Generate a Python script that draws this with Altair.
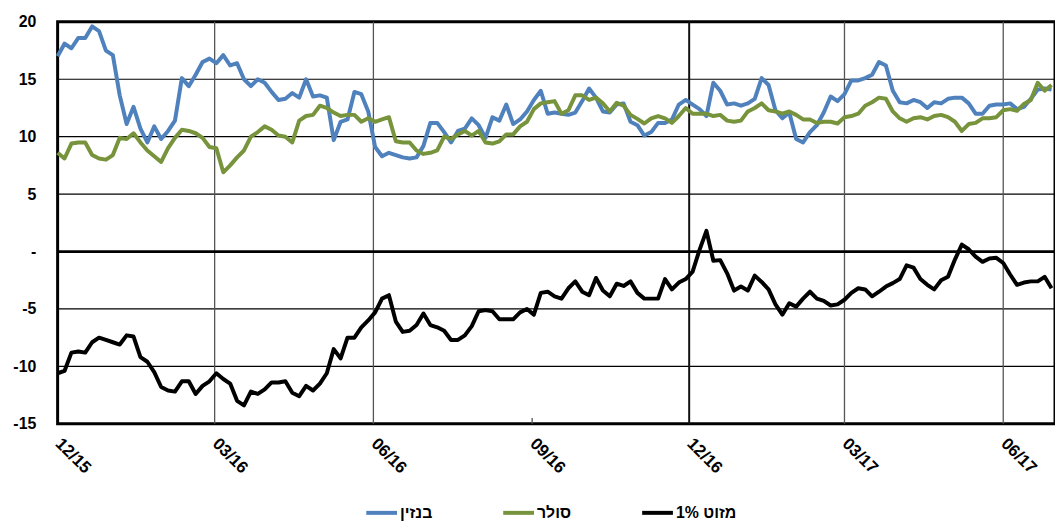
import altair as alt
import pandas as pd

# ---- data (one sample every 4 days from 2015-12-01) ----
dates = pd.date_range("2015-12-01", periods=145, freq="4D").strftime("%Y-%m-%d").tolist()

benzin = [
    17.0, 18.1, 17.7, 18.6, 18.6, 19.6, 19.2, 17.5, 17.1, 13.6,
    11.1, 12.6, 10.7, 9.5, 10.9, 9.8, 10.5, 11.4, 15.1, 14.4,
    15.4, 16.5, 16.8, 16.4, 17.1, 16.2, 16.4, 15.0, 14.4, 15.0,
    14.7, 13.9, 13.2, 13.3, 13.8, 13.4, 15.0, 13.5, 13.6, 13.4,
    9.7, 11.3, 11.5, 13.9, 13.7, 12.2, 9.1, 8.3, 8.6, 8.4,
    8.2, 8.1, 8.2, 9.2, 11.2, 11.2, 10.4, 9.5, 10.5, 10.7,
    11.6, 11.0, 9.9, 11.7, 11.4, 12.8, 11.1, 11.5, 12.2, 13.2,
    14.0, 12.0, 12.1,
    12.0, 11.9, 12.1, 13.1, 14.2, 13.4, 12.2, 12.1, 12.8, 12.9,
    11.3, 11.0, 10.1, 10.4, 11.2, 11.2, 11.5, 12.8, 13.2, 12.8,
    12.4, 11.8, 14.7, 14.0, 12.8, 12.9, 12.7, 12.9, 13.3, 15.1,
    14.5, 12.3, 11.6, 12.1, 9.8, 9.5, 10.4, 11.0, 12.1, 13.5,
    13.1, 13.7, 14.9, 14.9, 15.1, 15.4, 16.5, 16.2, 14.0, 13.0,
    12.9, 13.2, 13.0, 12.5, 13.0, 12.9, 13.3, 13.4, 13.4, 12.9,
    12.0, 12.0, 12.7, 12.8, 12.8, 12.9, 12.4, 12.6, 13.3, 14.1,
    14.2, 14.1,
]

soler = [
    8.6, 8.1, 9.4, 9.5, 9.5, 8.4, 8.1, 8.0, 8.4, 9.9,
    9.8, 10.3, 9.5, 8.8, 8.3, 7.8, 9.0, 9.9, 10.6, 10.5,
    10.3, 9.9, 9.1, 9.0, 6.9, 7.5, 8.2, 8.8, 10.0, 10.4,
    10.9, 10.6, 10.1, 10.0, 9.5, 11.4, 11.8, 11.9, 12.7, 12.5,
    12.1, 11.8, 11.9, 11.9, 11.3, 11.6, 11.3, 11.5, 11.7, 9.6,
    9.5, 9.5, 8.8, 8.5, 8.6, 8.8, 10.0, 9.8, 10.2, 10.5,
    10.1, 10.5, 9.5, 9.4, 9.6, 10.2, 10.2, 10.9, 11.3, 12.4,
    12.9, 13.0, 13.1,
    12.0, 12.3, 13.6, 13.6, 13.2, 13.4, 12.9, 12.2, 12.95, 12.7,
    11.9, 11.55, 11.15, 11.6, 11.8, 11.6, 11.2, 11.8, 12.5, 12.0,
    12.0, 12.0, 11.8, 11.9, 11.4, 11.3, 11.4, 12.2, 12.5, 12.9,
    12.3, 12.2, 12.0, 12.2, 11.9, 11.5, 11.5, 11.2, 11.3, 11.3,
    11.15, 11.7, 11.8, 12.0, 12.7, 13.0, 13.4, 13.3, 12.2, 11.6,
    11.3, 11.6, 11.7, 11.5, 11.8, 11.9, 11.7, 11.3, 10.5, 11.1,
    11.2, 11.6, 11.6, 11.7, 12.3, 12.4, 12.25, 12.85, 13.2, 14.7,
    14.0, 14.5,
]

mazut = [
    -10.6, -10.4, -8.8, -8.7, -8.8, -7.9, -7.5, -7.7, -7.9, -8.1,
    -7.3, -7.4, -9.2, -9.6, -10.5, -11.8, -12.1, -12.2, -11.3, -11.3,
    -12.4, -11.7, -11.3, -10.6, -11.1, -11.5, -13.0, -13.4, -12.2, -12.4,
    -12.0, -11.4, -11.4, -11.3, -12.3, -12.6, -11.7, -12.1, -11.5, -10.6,
    -8.5, -9.3, -7.5, -7.5, -6.6, -6.0, -5.3, -4.1, -3.8, -6.1,
    -7.0, -6.9, -6.4, -5.4, -6.4, -6.6, -6.9, -7.7, -7.7, -7.3,
    -6.5, -5.2, -5.1, -5.2, -5.9, -5.9, -5.9, -5.3, -5.0, -5.5,
    -3.6, -3.5, -3.9,
    -4.1, -3.2, -2.6, -3.5, -3.8, -2.3, -3.4, -3.9, -2.8, -3.0,
    -2.6, -3.6, -4.1, -4.1, -4.1, -2.4, -3.3, -2.7, -2.4, -1.75,
    0.15, 1.8, -0.8, -0.75, -1.9, -3.4, -3.05, -3.4, -2.1, -2.65,
    -3.3, -4.6, -5.5, -4.5, -4.8, -4.1, -3.5, -4.1, -4.3, -4.7,
    -4.6, -4.2, -3.6, -3.2, -3.3, -3.9, -3.5, -3.05, -2.75, -2.4,
    -1.2, -1.4, -2.4, -2.9, -3.3, -2.5, -2.2, -0.7, 0.6, 0.2,
    -0.45, -0.9, -0.6, -0.55, -1.0, -2.0, -2.9, -2.7, -2.6, -2.6,
    -2.2, -3.2,
]

series_names = ["בנזין", "סולר", "1% מזוט"]
series_colors = ["#4F81BD", "#77933C", "#000000"]

x_tick_dates = ["2015-12-01", "2016-03-01", "2016-06-01", "2016-09-01",
                "2016-12-01", "2017-03-01", "2017-06-01"]
quarter_lines = ["2016-03-01", "2016-06-01", "2017-03-01", "2017-06-01"]
year_line = ["2016-12-01"]
tick_only = ["2016-09-01"]
y_ticks = [-15, -10, -5, 0, 5, 10, 15, 20]
h_grid = [15, 10, 5, -5, -10]
zero_line = [0]
x_domain = ["2015-12-01", "2017-07-01"]
y_domain = [-15, 20]

# ---- helpers ----
def dt(s):
    y, m, d = (int(p) for p in s.split("-"))
    return alt.DateTime(year=y, month=m, date=d, utc=True)

FONT = "Liberation Sans"
x_scale = alt.Scale(type="utc", domain=[dt(s) for s in x_domain])
y_scale = alt.Scale(domain=y_domain, nice=False, zero=False)
color_scale = alt.Scale(domain=series_names, range=series_colors)

x_axis = alt.Axis(
    values=[dt(s) for s in x_tick_dates],
    labelExpr="utcFormat(datum.value, '%m/%y')",
    labelAngle=45, labelAlign="left", labelBaseline="middle", labelPadding=17,
    ticks=False, domain=False, grid=False, title=None,
    labelFont=FONT, labelFontSize=17, labelFontWeight="bold", labelColor="black",
)
y_axis = alt.Axis(
    values=y_ticks,
    labelExpr="datum.value === 0 ? '-\u00a0\u00a0' : '' + datum.value",
    ticks=False, domain=False, grid=False, title=None, labelPadding=22,
    labelFont=FONT, labelFontSize=16, labelFontWeight="bold", labelColor="black",
)
legend = alt.Legend(
    orient="none", legendX=309, legendY=477, direction="horizontal", title=None,
    symbolType="stroke", symbolSize=961, symbolStrokeWidth=4, labelOffset=1,
    columnPadding=63, padding=0, labelFont=FONT, labelFontSize=16,
    labelFontWeight="bold", labelColor="black", labelLimit=300,
)

hgrid = alt.Chart(pd.DataFrame({"v": h_grid})).mark_rule(color="black", strokeWidth=1.2).encode(
    y=alt.Y("v:Q", scale=y_scale, axis=y_axis))
zero = alt.Chart(pd.DataFrame({"v": zero_line})).mark_rule(color="black", strokeWidth=2.8).encode(
    y=alt.Y("v:Q", scale=y_scale, axis=y_axis))
qlines = alt.Chart(pd.DataFrame({"d": quarter_lines})).mark_rule(color="#555555", strokeWidth=1.3).encode(
    x=alt.X("d:T", scale=x_scale, axis=x_axis))
ylines = alt.Chart(pd.DataFrame({"d": year_line})).mark_rule(color="#111111", strokeWidth=2).encode(
    x=alt.X("d:T", scale=x_scale, axis=x_axis))
tdf = pd.DataFrame({"d": tick_only, "lo": [y_domain[0]], "hi": [y_domain[0] + 0.5]})
tmark = alt.Chart(tdf).mark_rule(color="#555555", strokeWidth=1.3).encode(
    x=alt.X("d:T", scale=x_scale, axis=x_axis),
    y=alt.Y("lo:Q", scale=y_scale, axis=y_axis), y2="hi:Q")

def series_line(values, name):
    sdf = pd.DataFrame({"date": dates, "value": values, "series": name})
    return alt.Chart(sdf).mark_line(strokeWidth=4, strokeJoin="round").encode(
        x=alt.X("date:T", scale=x_scale, axis=x_axis),
        y=alt.Y("value:Q", scale=y_scale, axis=y_axis),
        color=alt.Color("series:N", scale=color_scale, legend=legend),
    )

chart = alt.layer(
    hgrid, qlines, ylines, tmark, zero,
    series_line(benzin, series_names[0]),
    series_line(soler, series_names[1]),
    series_line(mazut, series_names[2]),
).properties(
    width=1005, height=405,
    autosize=alt.AutoSizeParams(type="none"),
    padding={"left": 50, "top": 12, "right": 0, "bottom": 96},
).configure_view(stroke="black", strokeWidth=3)

chart.save("out.html", embed_options={"renderer": "svg", "actions": False})
